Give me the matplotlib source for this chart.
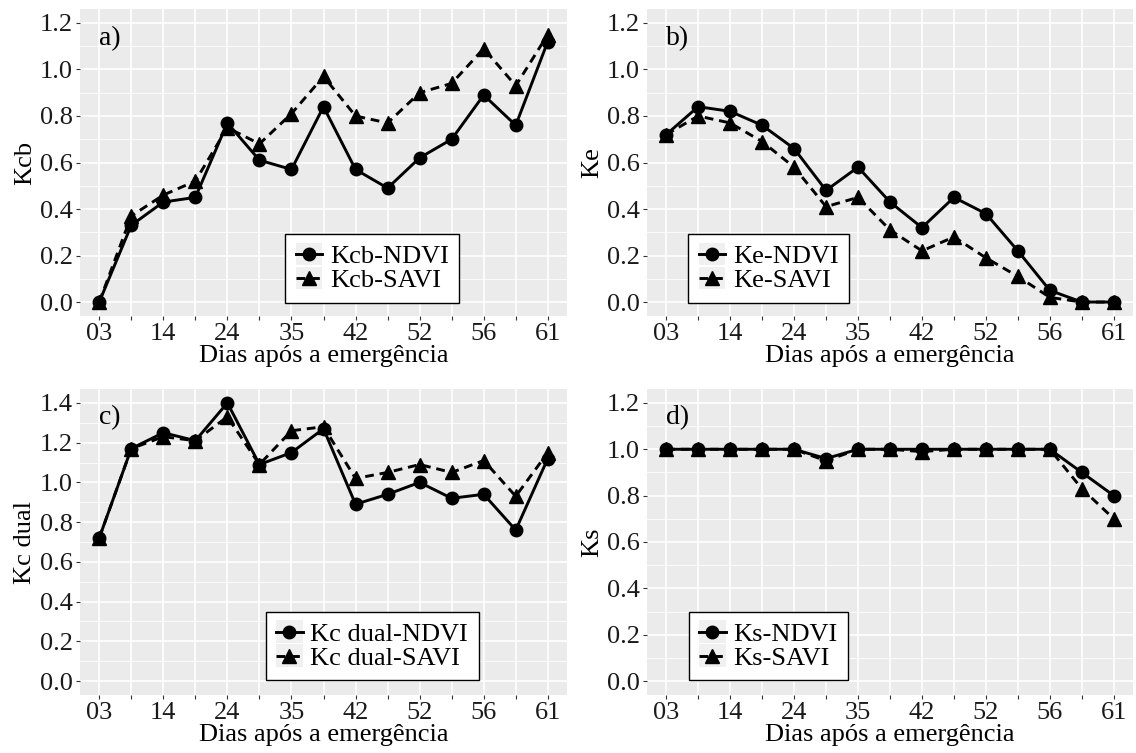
import numpy as np
import matplotlib.pyplot as plt
from matplotlib.legend_handler import HandlerLine2D
from matplotlib.patches import Rectangle
from matplotlib.lines import Line2D
from matplotlib.ticker import MultipleLocator, FormatStrFormatter

plt.rcParams['font.family'] = ['Liberation Serif', 'DejaVu Serif']

# dias após a emergência (eixo categórico, rótulo a cada 2 pontos)
dias = ['03', '', '14', '', '24', '', '35', '', '42', '', '52', '', '56', '', '61']

kcb_ndvi = [0.00, 0.33, 0.43, 0.45, 0.77, 0.61, 0.57, 0.84, 0.57, 0.49, 0.62, 0.70, 0.89, 0.76, 1.12]
kcb_savi = [0.00, 0.37, 0.46, 0.52, 0.75, 0.68, 0.81, 0.97, 0.80, 0.77, 0.90, 0.94, 1.09, 0.93, 1.15]

ke_ndvi = [0.72, 0.84, 0.82, 0.76, 0.66, 0.48, 0.58, 0.43, 0.32, 0.45, 0.38, 0.22, 0.05, 0.00, 0.00]
ke_savi = [0.72, 0.80, 0.77, 0.69, 0.58, 0.41, 0.45, 0.31, 0.22, 0.28, 0.19, 0.11, 0.02, 0.00, 0.00]

kcdual_ndvi = [0.72, 1.17, 1.25, 1.21, 1.40, 1.09, 1.15, 1.27, 0.89, 0.94, 1.00, 0.92, 0.94, 0.76, 1.12]
kcdual_savi = [0.72, 1.17, 1.23, 1.21, 1.33, 1.09, 1.26, 1.28, 1.02, 1.05, 1.09, 1.05, 1.11, 0.93, 1.15]

ks_ndvi = [1.00, 1.00, 1.00, 1.00, 1.00, 0.96, 1.00, 1.00, 1.00, 1.00, 1.00, 1.00, 1.00, 0.90, 0.80]
ks_savi = [1.00, 1.00, 1.00, 1.00, 1.00, 0.95, 1.00, 1.00, 0.99, 1.00, 1.00, 1.00, 1.00, 0.83, 0.70]


# fundo cinza atrás de cada chave da legenda (estilo ggplot)
class KeyHandler(HandlerLine2D):
    def create_artists(self, legend, orig_handle, xdescent, ydescent,
                       width, height, fontsize, trans):
        bg = Rectangle((-xdescent, -ydescent - 0.1 * height), width, height * 1.2,
                       facecolor='#F0F0F0', edgecolor='none', transform=trans)
        arts = super().create_artists(legend, orig_handle, xdescent, ydescent,
                                      width, height, fontsize, trans)
        return [bg] + list(arts)


fig = plt.figure(figsize=(11.36, 7.53), dpi=100)

W, H = 1136, 753
def pos(x0, y0, x1, y1):
    return [x0 / W, 1 - y1 / H, (x1 - x0) / W, (y1 - y0) / H]

paineis = [
    ('a)', 'Kcb', kcb_ndvi, kcb_savi, 'Kcb-NDVI', 'Kcb-SAVI', 1.2, pos(80, 9, 567, 316), (0.60, 0.155)),
    ('b)', 'Ke', ke_ndvi, ke_savi, 'Ke-NDVI', 'Ke-SAVI', 1.2, pos(647, 9, 1133, 316), (0.25, 0.155)),
    ('c)', 'Kc dual', kcdual_ndvi, kcdual_savi, 'Kc dual-NDVI', 'Kc dual-SAVI', 1.4, pos(80, 389, 567, 695), (0.60, 0.16)),
    ('d)', 'Ks', ks_ndvi, ks_savi, 'Ks-NDVI', 'Ks-SAVI', 1.2, pos(647, 389, 1133, 695), (0.25, 0.16)),
]

x = np.arange(len(dias))
fs = 19

for letra, ylab, y1, y2, lab1, lab2, ymax, p, leg_xy in paineis:
    ax = fig.add_axes(p)
    ax.set_facecolor('#EBEBEB')
    for s in ax.spines.values():
        s.set_visible(False)

    ax.plot(x, y1, '-', color='black', lw=2.1, marker='o', ms=9, label=lab1, zorder=3)
    ax.plot(x, y2, color='black', lw=2.1, ls=(0, (3.0, 2.0)), marker='^', ms=10.5, label=lab2, zorder=3)

    ax.set_xlim(-0.6, len(dias) - 1 + 0.6)
    ax.set_ylim(-0.05 * ymax, ymax * 1.05)
    ax.set_xticks(x)
    ax.set_xticklabels(dias)
    ax.yaxis.set_major_locator(MultipleLocator(0.2))
    ax.yaxis.set_minor_locator(MultipleLocator(0.1))
    ax.yaxis.set_major_formatter(FormatStrFormatter('%.1f'))

    ax.grid(True, which='major', color='white', lw=1.2, zorder=0)
    ax.grid(True, which='minor', axis='y', color='white', lw=0.6, zorder=0)
    ax.set_axisbelow(True)
    ax.tick_params(which='major', length=3, width=0.8, color='#333333',
                   labelsize=fs, labelcolor='#1a1a1a', pad=2)
    ax.tick_params(which='minor', length=0)

    ax.set_xlabel('Dias após a emergência', fontsize=fs, labelpad=0)
    ax.set_ylabel(ylab, fontsize=fs, labelpad=3)
    ax.text(0.04, 0.905, letra, transform=ax.transAxes, fontsize=fs + 1, va='center', ha='left')

    leg = ax.legend(loc='center', bbox_to_anchor=leg_xy, fontsize=fs,
                    handler_map={Line2D: KeyHandler()},
                    handlelength=1.0, handletextpad=0.3, labelspacing=0.02,
                    borderpad=0.4, borderaxespad=0, fancybox=False, framealpha=1)
    leg.get_frame().set_edgecolor('black')
    leg.get_frame().set_linewidth(1.0)

plt.savefig('out.png', dpi=100)
